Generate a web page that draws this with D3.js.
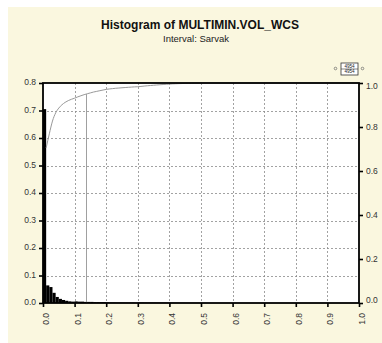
<!DOCTYPE html>
<html>
<head>
<meta charset="utf-8">
<script src="https://cdn.jsdelivr.net/npm/d3@7"></script>
<style>
  html, body { margin: 0; padding: 0; background: #ffffff; }
  svg { display: block; font-family: "Liberation Sans", Arial, sans-serif; }
</style>
</head>
<body>
<svg id="chart" width="382" height="343"></svg>
<script>
// Histogram bins of MULTIMIN.VOL_WCS (bin width 0.01), relative frequency
const binWidth = 0.01;
const binStarts = d3.range(0, 0.5, binWidth);
const binFreq = [
  0.705, 0.064, 0.058, 0.037, 0.022, 0.015, 0.011, 0.008, 0.006, 0.005,
  0.006, 0.005, 0.005, 0.004, 0.004, 0.004, 0.003, 0.003, 0.003, 0.003,
  0.002, 0.0015, 0.0015, 0.0012, 0.0012, 0.001, 0.001, 0.001, 0.001, 0.0006,
  0.0015, 0.0015, 0.0013, 0.0013, 0.0012, 0.0012, 0.0011, 0.001, 0.001, 0.0009,
  0.0008, 0.0007, 0.0006, 0.0005, 0.0005, 0.0004, 0.0004, 0.0003, 0.0003, 0.0005
];
const sampleCount = ["4954", "4954"];
const markerValue = 0.135;

const xTicks = [0, 0.1, 0.2, 0.3, 0.4, 0.5, 0.6, 0.7, 0.8, 0.9, 1.0];
const yLeftTicks = [0, 0.1, 0.2, 0.3, 0.4, 0.5, 0.6, 0.7, 0.8];
const yRightTicks = [0, 0.2, 0.4, 0.6, 0.8, 1.0];

const svg = d3.select("#chart");

// panel background
svg.append("rect").attr("x", 8).attr("y", 7).attr("width", 374).attr("height", 336)
  .attr("fill", "#faf7df");

const plotL = 43, plotR = 359, plotT = 83, plotB = 303;
const x = d3.scaleLinear().domain([0, 1]).range([plotL, plotR]);
const yL = d3.scaleLinear().domain([0, 0.8]).range([plotB, plotT]);
const yR = d3.scaleLinear().domain([0, 1]).range([plotB, plotT]);

// titles
svg.append("text").attr("x", 200).attr("y", 29).attr("text-anchor", "middle")
  .attr("font-size", 12).attr("font-weight", "bold").attr("fill", "#111")
  .text("Histogram of MULTIMIN.VOL_WCS");
svg.append("text").attr("x", 196).attr("y", 42).attr("text-anchor", "middle")
  .attr("font-size", 9.5).attr("fill", "#222")
  .text("Interval: Sarvak");

// legend: sample count box
const lg = svg.append("g");
lg.append("circle").attr("cx", 335.5).attr("cy", 68.5).attr("r", 1.3)
  .attr("fill", "none").attr("stroke", "#666").attr("stroke-width", 0.7);
lg.append("circle").attr("cx", 362.5).attr("cy", 68.5).attr("r", 1.3)
  .attr("fill", "none").attr("stroke", "#666").attr("stroke-width", 0.7);
lg.append("rect").attr("x", 341).attr("y", 63).attr("width", 17).attr("height", 12)
  .attr("fill", "#fff").attr("stroke", "#333").attr("stroke-width", 0.8);
lg.append("line").attr("x1", 341).attr("x2", 358).attr("y1", 69).attr("y2", 69)
  .attr("stroke", "#333").attr("stroke-width", 0.6);
lg.selectAll("text.cnt").data(sampleCount).join("text").attr("class", "cnt")
  .attr("x", 349.5).attr("y", (d, i) => 67.6 + i * 5.6)
  .attr("text-anchor", "middle").attr("font-size", 4.6).attr("fill", "#222")
  .text(d => d);

// plot area
svg.append("rect").attr("x", plotL).attr("y", plotT)
  .attr("width", plotR - plotL).attr("height", plotB - plotT).attr("fill", "#fff");

// grid
const grid = svg.append("g").attr("stroke", "#8a8a8a").attr("stroke-width", 0.8)
  .attr("stroke-dasharray", "2,2");
grid.selectAll("line.h").data(yLeftTicks.slice(1, -1)).join("line")
  .attr("x1", plotL).attr("x2", plotR)
  .attr("y1", d => Math.round(yL(d)) + 0.5).attr("y2", d => Math.round(yL(d)) + 0.5);
grid.selectAll("line.v").data(xTicks.slice(1, -1)).join("line")
  .attr("y1", plotT).attr("y2", plotB)
  .attr("x1", d => Math.round(x(d)) + 0.5).attr("x2", d => Math.round(x(d)) + 0.5);

// histogram bars
svg.append("g").selectAll("rect").data(binStarts.map((s, i) => ({ s, v: binFreq[i] })))
  .join("rect")
  .attr("x", d => x(d.s))
  .attr("width", d => x(d.s + binWidth) - x(d.s))
  .attr("y", d => yL(d.v))
  .attr("height", d => plotB - yL(d.v))
  .attr("fill", "#000");

// cumulative frequency curve (right axis)
const cum = d3.cumsum(binFreq);
const cumPts = binStarts.map((s, i) => [s + binWidth, Math.min(1, cum[i])]);
const line = d3.line().x(d => x(d[0])).y(d => yR(d[1])).curve(d3.curveMonotoneX);
svg.append("path").datum(cumPts.concat([[1, 1]]))
  .attr("d", line).attr("fill", "none").attr("stroke", "#999").attr("stroke-width", 1);

// marker line up to the cumulative curve
const mIdx = d3.bisector(d => d[0]).left(cumPts, markerValue);
const p0 = cumPts[mIdx - 1], p1 = cumPts[mIdx];
const mCum = p0[1] + (p1[1] - p0[1]) * (markerValue - p0[0]) / (p1[0] - p0[0]);
svg.append("line")
  .attr("x1", Math.round(x(markerValue)) + 0.5).attr("x2", Math.round(x(markerValue)) + 0.5)
  .attr("y1", plotB).attr("y2", yR(mCum))
  .attr("stroke", "#888").attr("stroke-width", 0.8);

// frame
svg.append("rect").attr("x", plotL).attr("y", plotT)
  .attr("width", plotR - plotL).attr("height", plotB - plotT)
  .attr("fill", "none").attr("stroke", "#000").attr("stroke-width", 1.8);

// axes
const axL = d3.axisLeft(yL).tickValues(yLeftTicks).tickFormat(d3.format(".1f"))
  .tickSize(4).tickPadding(3);
const axR = d3.axisRight(yR).tickValues(yRightTicks).tickFormat(d3.format(".1f"))
  .tickSize(4).tickPadding(3);
const axB = d3.axisBottom(x).tickValues(xTicks).tickFormat(d3.format(".1f"))
  .tickSize(4).tickPadding(3);

function styleAxis(g) {
  g.select(".domain").remove();
  g.selectAll(".tick line").attr("stroke", "#000").attr("stroke-width", 1.6);
  g.selectAll(".tick text").attr("fill", "#333").attr("font-size", 8.5)
    .attr("font-family", "Liberation Sans, Arial, sans-serif");
}

const gL = svg.append("g").attr("transform", `translate(${plotL},0)`).call(axL).call(styleAxis);
gL.selectAll(".tick text").attr("dy", "0.2em");

const gR = svg.append("g").attr("transform", `translate(${plotR},0)`).call(axR).call(styleAxis);
gR.selectAll(".tick text").attr("dy", d => d === 1 ? "0.65em" : d === 0 ? "-0.1em" : "0.32em");

const gB = svg.append("g").attr("transform", `translate(0,${plotB})`).call(axB).call(styleAxis);
gB.selectAll(".tick text")
  .attr("transform", "rotate(-90)")
  .attr("text-anchor", "end")
  .attr("x", -10).attr("y", 2.5).attr("dy", "0.35em");
</script>
</body>
</html>
